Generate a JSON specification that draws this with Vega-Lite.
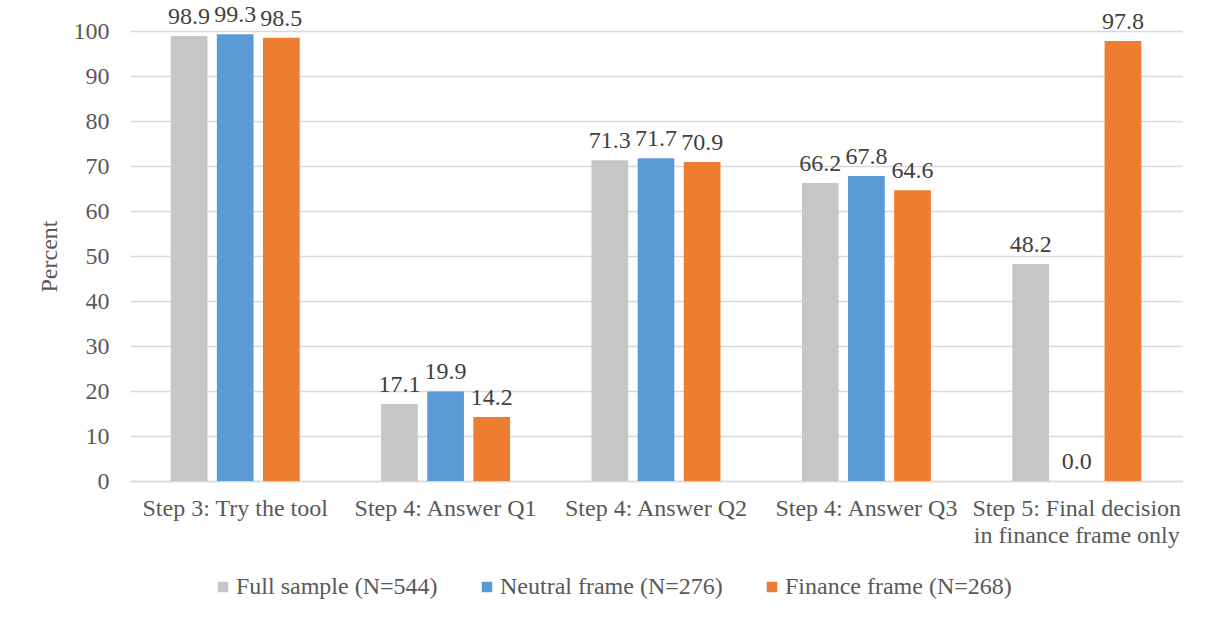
{
  "$schema": "https://vega.github.io/schema/vega-lite/v6.json",
  "width": 1052,
  "height": 450,
  "autosize": {"type": "none"},
  "padding": {"left": 130, "top": 31, "right": 30, "bottom": 145},
  "background": "white",
  "config": {
    "view": {"stroke": null},
    "font": "Liberation Serif",
    "axis": {"labelFont": "Liberation Serif", "titleFont": "Liberation Serif", "labelColor": "#595959", "titleColor": "#595959", "labelFontSize": 24, "titleFontSize": 24, "titleFontWeight": "normal"},
    "legend": {"labelFont": "Liberation Serif", "labelFontSize": 24, "labelColor": "#595959", "labelLimit": 400}
  },
  "data": {
    "values": [
      {"step": "Step 3: Try the tool", "series": "Full sample (N=544)", "value": 98.9},
      {"step": "Step 3: Try the tool", "series": "Neutral frame (N=276)", "value": 99.3},
      {"step": "Step 3: Try the tool", "series": "Finance frame (N=268)", "value": 98.5},
      {"step": "Step 4: Answer Q1", "series": "Full sample (N=544)", "value": 17.1},
      {"step": "Step 4: Answer Q1", "series": "Neutral frame (N=276)", "value": 19.9},
      {"step": "Step 4: Answer Q1", "series": "Finance frame (N=268)", "value": 14.2},
      {"step": "Step 4: Answer Q2", "series": "Full sample (N=544)", "value": 71.3},
      {"step": "Step 4: Answer Q2", "series": "Neutral frame (N=276)", "value": 71.7},
      {"step": "Step 4: Answer Q2", "series": "Finance frame (N=268)", "value": 70.9},
      {"step": "Step 4: Answer Q3", "series": "Full sample (N=544)", "value": 66.2},
      {"step": "Step 4: Answer Q3", "series": "Neutral frame (N=276)", "value": 67.8},
      {"step": "Step 4: Answer Q3", "series": "Finance frame (N=268)", "value": 64.6},
      {"step": "Step 5: Final decision|in finance frame only", "series": "Full sample (N=544)", "value": 48.2},
      {"step": "Step 5: Final decision|in finance frame only", "series": "Neutral frame (N=276)", "value": 0.0},
      {"step": "Step 5: Final decision|in finance frame only", "series": "Finance frame (N=268)", "value": 97.8}
    ]
  },
  "encoding": {
    "x": {
      "field": "step", "type": "nominal", "sort": null,
      "scale": {"paddingInner": 0.387, "paddingOuter": 0.1935},
      "axis": {"title": null, "labelAngle": 0, "ticks": false, "domainColor": "#d9d9d9", "domainWidth": 1.3, "labelPadding": 15, "labelLineHeight": 27, "labelLimit": 400, "labelExpr": "split(datum.label, '|')"}
    },
    "xOffset": {
      "field": "series", "type": "nominal",
      "sort": ["Full sample (N=544)", "Neutral frame (N=276)", "Finance frame (N=268)"],
      "scale": {"paddingInner": 0.204, "paddingOuter": 0}
    },
    "y": {
      "field": "value", "type": "quantitative",
      "scale": {"domain": [0, 100]},
      "axis": {"title": "Percent", "values": [0,10,20,30,40,50,60,70,80,90,100], "ticks": false, "domain": false, "gridColor": "#d9d9d9", "gridWidth": 1.3, "labelPadding": 21, "titlePadding": 12}
    }
  },
  "layer": [
    {
      "mark": {"type": "bar"},
      "encoding": {
        "color": {
          "field": "series", "type": "nominal",
          "sort": ["Full sample (N=544)", "Neutral frame (N=276)", "Finance frame (N=268)"],
          "scale": {"domain": ["Full sample (N=544)", "Neutral frame (N=276)", "Finance frame (N=268)"], "range": ["#c6c6c6", "#5B9BD5", "#ED7D31"]},
          "legend": {"title": null, "orient": "none", "direction": "horizontal", "legendX": 81, "legendY": 544, "symbolType": "square", "symbolSize": 110, "symbolStrokeWidth": 0, "columnPadding": 37, "labelOffset": 1}
        }
      }
    },
    {
      "mark": {"type": "text", "baseline": "alphabetic", "dy": -12, "fontSize": 24, "color": "#404040", "font": "Liberation Serif"},
      "encoding": {
        "text": {"field": "value", "type": "quantitative", "format": ".1f"}
      }
    }
  ]
}
